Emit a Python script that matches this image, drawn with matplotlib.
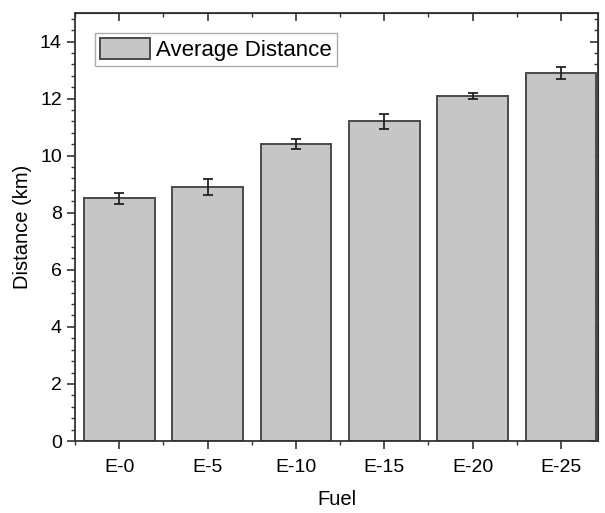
import matplotlib
matplotlib.use('Agg')
import matplotlib.pyplot as plt
from matplotlib.ticker import MultipleLocator, FixedLocator

# data ------------------------------------------
fuels = ['E-0', 'E-5', 'E-10', 'E-15', 'E-20', 'E-25']
distance = [8.5, 8.9, 10.4, 11.2, 12.1, 12.9]
distance_err = [0.2, 0.27, 0.18, 0.26, 0.1, 0.2]
# -----------------------------------------------

plt.rcParams['font.family'] = ['Liberation Sans', 'DejaVu Sans']

fig = plt.figure(figsize=(6.05, 5.13), dpi=100)
ax = fig.add_axes([75/605, 1-441/513, (598-75)/605, (441-13)/513])

x = list(range(len(fuels)))
ax.bar(x, distance, width=0.8, color='#c6c6c6', edgecolor='#4a4a4a', linewidth=1.4,
       label='Average Distance', zorder=2)
ax.errorbar(x, distance, yerr=distance_err, fmt='none', ecolor='#222222',
            elinewidth=1.3, capsize=3.5, capthick=1.3, zorder=3)

ax.set_xlim(-0.5, 5.42)
ax.set_ylim(0, 15)
ax.set_xticks(x)
ax.set_xticklabels(fuels)
ax.xaxis.set_minor_locator(FixedLocator([i + 0.5 for i in range(-1, len(fuels))]))
ax.yaxis.set_major_locator(MultipleLocator(2))
ax.yaxis.set_minor_locator(MultipleLocator(0.4))

ax.set_xlabel('Fuel', fontsize=14.5, labelpad=10)
ax.set_ylabel('Distance (km)', fontsize=14.5, labelpad=6)

for s in ax.spines.values():
    s.set_linewidth(1.3)
    s.set_color('#333333')

ax.tick_params(axis='both', which='major', labelsize=14, length=6, width=1.2,
               color='#333333', direction='out')
ax.tick_params(axis='x', which='major', pad=7)
ax.tick_params(axis='both', which='minor', length=3, width=1.0, color='#333333',
               direction='out')
# top and right ticks point inward, no labels
ax2 = ax.secondary_xaxis('top')
ax2.set_xticks(x)
ax2.set_xticklabels([])
ax2.xaxis.set_minor_locator(FixedLocator([i + 0.5 for i in range(-1, len(fuels))]))
ax2.tick_params(which='major', direction='in', length=6, width=1.2, color='#333333')
ax2.tick_params(which='minor', direction='in', length=3, width=1.0, color='#333333')
ax3 = ax.secondary_yaxis('right')
ax3.yaxis.set_major_locator(MultipleLocator(2))
ax3.yaxis.set_minor_locator(MultipleLocator(0.4))
ax3.set_yticklabels([])
ax3.tick_params(which='major', direction='in', length=6, width=1.2, color='#333333')
ax3.tick_params(which='minor', direction='in', length=3, width=1.0, color='#333333')

leg = ax.legend(loc='upper left', bbox_to_anchor=(0.038, 0.953), fontsize=16,
                fancybox=False, edgecolor='#999999', handlelength=2.25,
                handleheight=1.1, borderpad=0.22, handletextpad=0.3,
                borderaxespad=0)
leg.get_frame().set_linewidth(1.0)

plt.savefig('out.png', dpi=100)
